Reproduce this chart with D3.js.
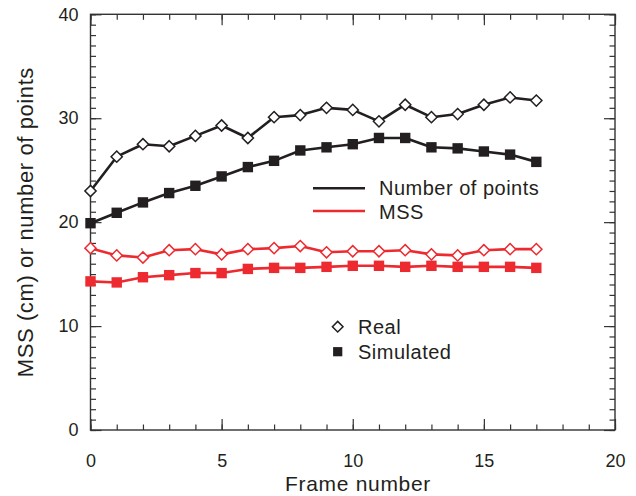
<!DOCTYPE html>
<html><head><meta charset="utf-8">
<script src="https://cdn.jsdelivr.net/npm/d3@7"></script>
<style>
body{margin:0;background:#fff}
svg{display:block}
text{font-family:"Liberation Sans",Arial,Helvetica,sans-serif;fill:#231f20}
</style>
</head><body>
<svg id="c" width="636" height="496"></svg>
<script>
// ---- data ----
const frames = [0,1,2,3,4,5,6,7,8,9,10,11,12,13,14,15,16,17];
const pointsReal = [23.0,26.3,27.5,27.3,28.3,29.3,28.1,30.1,30.3,31.0,30.8,29.7,31.3,30.1,30.4,31.3,32.0,31.7];
const pointsSim  = [19.9,20.9,21.9,22.8,23.5,24.4,25.3,25.9,26.9,27.2,27.5,28.1,28.1,27.2,27.1,26.8,26.5,25.8];
const mssReal    = [17.5,16.8,16.6,17.3,17.4,16.9,17.4,17.5,17.7,17.1,17.2,17.2,17.3,16.9,16.8,17.3,17.4,17.4];
const mssSim     = [14.3,14.2,14.7,14.9,15.1,15.1,15.5,15.6,15.6,15.7,15.8,15.8,15.7,15.8,15.7,15.7,15.7,15.6];
const xMajor = [0,5,10,15,20];
const yMajor = [0,10,20,30,40];
const xLabel = "Frame number";
const yLabel = "MSS (cm) or number of points";
const lineLegend = [{name:"Number of points", color:"#231f20"},{name:"MSS", color:"#ec2a30"}];
const markerLegend = [{name:"Real", shape:"diamond"},{name:"Simulated", shape:"square"}];

// ---- layout ----
const L = 90.5, R = 615, T = 14.3, B = 430;
const svg = d3.select("#c");
const x = d3.scaleLinear().domain([0,20]).range([L,R]);
const y = d3.scaleLinear().domain([0,40]).range([B,T]);
const ink = "#231f20", red = "#ec2a30";

// frame
svg.append("rect").attr("x",L).attr("y",T).attr("width",R-L).attr("height",B-T)
  .attr("fill","none").attr("stroke","#333").attr("stroke-width",1.4);

function styleAxis(g){ g.select(".domain").remove(); g.selectAll("line").attr("stroke","#333").attr("stroke-width",1.2); g.selectAll("text").attr("font-size",18).attr("fill",ink).style("font-family",'"Liberation Sans",Arial,sans-serif'); }

const xMinor = d3.range(0,21), yMinor = d3.range(0,41);
// bottom
svg.append("g").attr("transform",`translate(0,${B})`)
  .call(d3.axisBottom(x).tickValues(xMinor).tickSize(-5.5).tickFormat("")).call(styleAxis);
svg.append("g").attr("transform",`translate(0,${B})`)
  .call(d3.axisBottom(x).tickValues(xMajor).tickSize(-11).tickPadding(24).tickFormat(d3.format("d"))).call(styleAxis);
// top
svg.append("g").attr("transform",`translate(0,${T})`)
  .call(d3.axisTop(x).tickValues(xMinor).tickSize(-5.5).tickFormat("")).call(styleAxis);
svg.append("g").attr("transform",`translate(0,${T})`)
  .call(d3.axisTop(x).tickValues(xMajor).tickSize(-11).tickFormat("")).call(styleAxis);
// left
svg.append("g").attr("transform",`translate(${L},0)`)
  .call(d3.axisLeft(y).tickValues(yMinor).tickSize(-5.5).tickFormat("")).call(styleAxis);
svg.append("g").attr("transform",`translate(${L},0)`)
  .call(d3.axisLeft(y).tickValues(yMajor).tickSize(-11).tickPadding(12).tickFormat(d3.format("d"))).call(styleAxis);
// right
svg.append("g").attr("transform",`translate(${R},0)`)
  .call(d3.axisRight(y).tickValues(yMinor).tickSize(-5.5).tickFormat("")).call(styleAxis);
svg.append("g").attr("transform",`translate(${R},0)`)
  .call(d3.axisRight(y).tickValues(yMajor).tickSize(-11).tickFormat("")).call(styleAxis);

// axis titles
svg.append("text").attr("x",358).attr("y",491).attr("text-anchor","middle")
  .attr("font-size",21).style("letter-spacing","0.7px").text(xLabel);
svg.append("text").attr("transform",`translate(33,${(T+B)/2}) rotate(-90)`).attr("text-anchor","middle")
  .attr("font-size",22).style("letter-spacing","0.6px").text(yLabel);

// series
const diamond = r => `M0,${-r}L${r},0L0,${r}L${-r},0Z`;
const line = d3.line().x((d,i)=>x(frames[i])).y(d=>y(d));
const series = [
  {vals:pointsReal, color:ink, shape:"diamond"},
  {vals:pointsSim,  color:ink, shape:"square"},
  {vals:mssReal,    color:red, shape:"diamond"},
  {vals:mssSim,     color:red, shape:"square"}
];
series.forEach(s=>{
  svg.append("path").datum(s.vals).attr("d",line).attr("fill","none")
    .attr("stroke",s.color).attr("stroke-width",2.6).attr("stroke-linejoin","round");
});
function drawMarker(g, shape, color){
  if(shape==="diamond"){
    g.append("path").attr("d",diamond(5.6)).attr("fill","#fff").attr("stroke",color).attr("stroke-width",1.5);
  } else {
    g.append("rect").attr("x",-5.2).attr("y",-5.2).attr("width",10.4).attr("height",10.4).attr("fill",color);
  }
}
series.forEach(s=>{
  s.vals.forEach((v,i)=>{
    const g = svg.append("g").attr("transform",`translate(${x(frames[i])},${y(v)})`);
    drawMarker(g, s.shape, s.color);
  });
});

// line legend
lineLegend.forEach((d,i)=>{
  const yy = 188.3 + i*22.7;
  svg.append("line").attr("x1",313).attr("x2",365).attr("y1",yy).attr("y2",yy)
    .attr("stroke",d.color).attr("stroke-width",2.6);
  svg.append("text").attr("x",379).attr("y",195.3 + i*23.7).attr("font-size",20)
    .style("letter-spacing","0.5px").text(d.name);
});
// marker legend
markerLegend.forEach((d,i)=>{
  const g = svg.append("g").attr("transform",`translate(337.7,${326.7 + i*25})`);
  if(d.shape==="diamond") g.append("path").attr("d",diamond(5.3)).attr("fill","#fff").attr("stroke",ink).attr("stroke-width",1.5);
  else g.append("rect").attr("x",-4.6).attr("y",-4.6).attr("width",9.2).attr("height",9.2).attr("fill",ink);
  svg.append("text").attr("x",358).attr("y",334 + i*24.5).attr("font-size",20)
    .style("letter-spacing","0.5px").text(d.name);
});
</script>
</body></html>
